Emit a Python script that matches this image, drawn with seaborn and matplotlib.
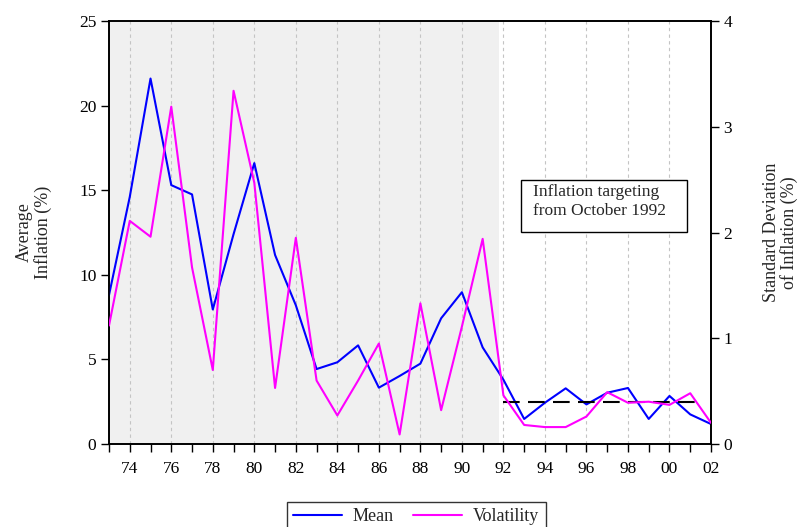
import matplotlib
matplotlib.use("Agg")
import matplotlib.pyplot as plt
import seaborn as sns
import pandas as pd
from matplotlib.lines import Line2D
from matplotlib.patches import Rectangle

years = list(range(1973, 2003))
mean_infl = [8.8, 14.6, 21.6, 15.3, 14.75, 7.95, 12.4, 16.6, 11.17, 8.2,
             4.43, 4.83, 5.83, 3.33, 4.02, 4.75, 7.43, 8.97, 5.71, 3.8,
             1.48, 2.44, 3.29, 2.34, 3.03, 3.31, 1.48, 2.84, 1.75, 1.18]
volatility = [1.12, 2.11, 1.96, 3.19, 1.67, 0.70, 3.34, 2.47, 0.53, 1.95,
              0.60, 0.27, 0.60, 0.95, 0.09, 1.33, 0.32, 1.11, 1.94, 0.46,
              0.18, 0.16, 0.16, 0.26, 0.49, 0.39, 0.40, 0.37, 0.48, 0.20]
target_value = 2.5
target_start, target_end = 1992, 2001.6
regime_change = 1991.8
series_labels = ["Mean", "Volatility"]
note_text = "Inflation targeting\nfrom October 1992"

df = pd.DataFrame({"year": years, "mean": mean_infl, "vol": volatility})

sns.set_theme(style="ticks")
plt.rcParams["font.family"] = ["Liberation Serif", "DejaVu Serif"]
plt.rcParams["axes.edgecolor"] = "black"
plt.rcParams["axes.linewidth"] = 1.2

fig = plt.figure(figsize=(8.08, 5.27), dpi=100)
ax = fig.add_axes([109/808, 1-444/527, (711-109)/808, (444-21)/527])
ax.set_facecolor("white")

ax.axvspan(1973, regime_change, color="#f0f0f0", zorder=0, lw=0)
for yv in range(1974, 2002, 2):
    ax.axvline(yv, color="#c4c4c4", ls=(0, (3, 3)), lw=0.8, zorder=1)

sns.lineplot(data=df, x="year", y="mean", ax=ax, color="#0000ff", lw=1.5, zorder=3)
ax.plot([target_start, target_end], [target_value, target_value],
        color="black", lw=1.5, dashes=(8, 4), zorder=4)

ax2 = ax.twinx()
sns.lineplot(data=df, x="year", y="vol", ax=ax2, color="#ff00ff", lw=1.5, zorder=3)

ax.set_xlim(1973, 2002)
ax.set_ylim(0, 25)
ax2.set_ylim(0, 4)
ax.set_yticks(range(0, 26, 5))
ax2.set_yticks(range(0, 5))
ax.set_xticks(years)
ax.set_xticklabels([f"{y % 100:02d}" if y % 2 == 0 else "" for y in years])

for a in (ax, ax2):
    a.tick_params(direction="out", length=6, width=1, labelsize=12.5, colors="black", pad=3)
    for s in a.spines.values():
        s.set_visible(True)
        s.set_color("black")
        s.set_linewidth(1.2)
ax.tick_params(axis="x", pad=6)

ax.set_xlabel("")
ax.set_ylabel("Average\nInflation (%)", fontsize=13, linespacing=1.05)
ax.yaxis.set_label_coords(-0.095, 0.5)
ax2.set_ylabel("Standard Deviation\nof Inflation (%)", fontsize=13, linespacing=1.05)
ax2.yaxis.set_label_coords(1.086, 0.5)

# annotation box
ax.add_patch(Rectangle((0.684, 0.501), 0.276, 0.123, transform=ax.transAxes,
                       facecolor="white", edgecolor="black", lw=1, zorder=5))
ax.text(0.704, 0.614, note_text, transform=ax.transAxes, fontsize=12.5,
        va="top", ha="left", linespacing=1.25, zorder=6)

handles = [Line2D([], [], color="#0000ff", lw=1.5), Line2D([], [], color="#ff00ff", lw=1.5)]
leg = fig.legend(handles, series_labels, loc="upper center", bbox_to_anchor=(0.515, 1-502/527),
                 ncol=2, fontsize=13, frameon=True, fancybox=False, edgecolor="black",
                 handlelength=2.7, handletextpad=0.6, columnspacing=1.1, borderpad=0.35,
                 borderaxespad=0)
leg.get_frame().set_linewidth(1)

fig.savefig("out.png", dpi=100)
